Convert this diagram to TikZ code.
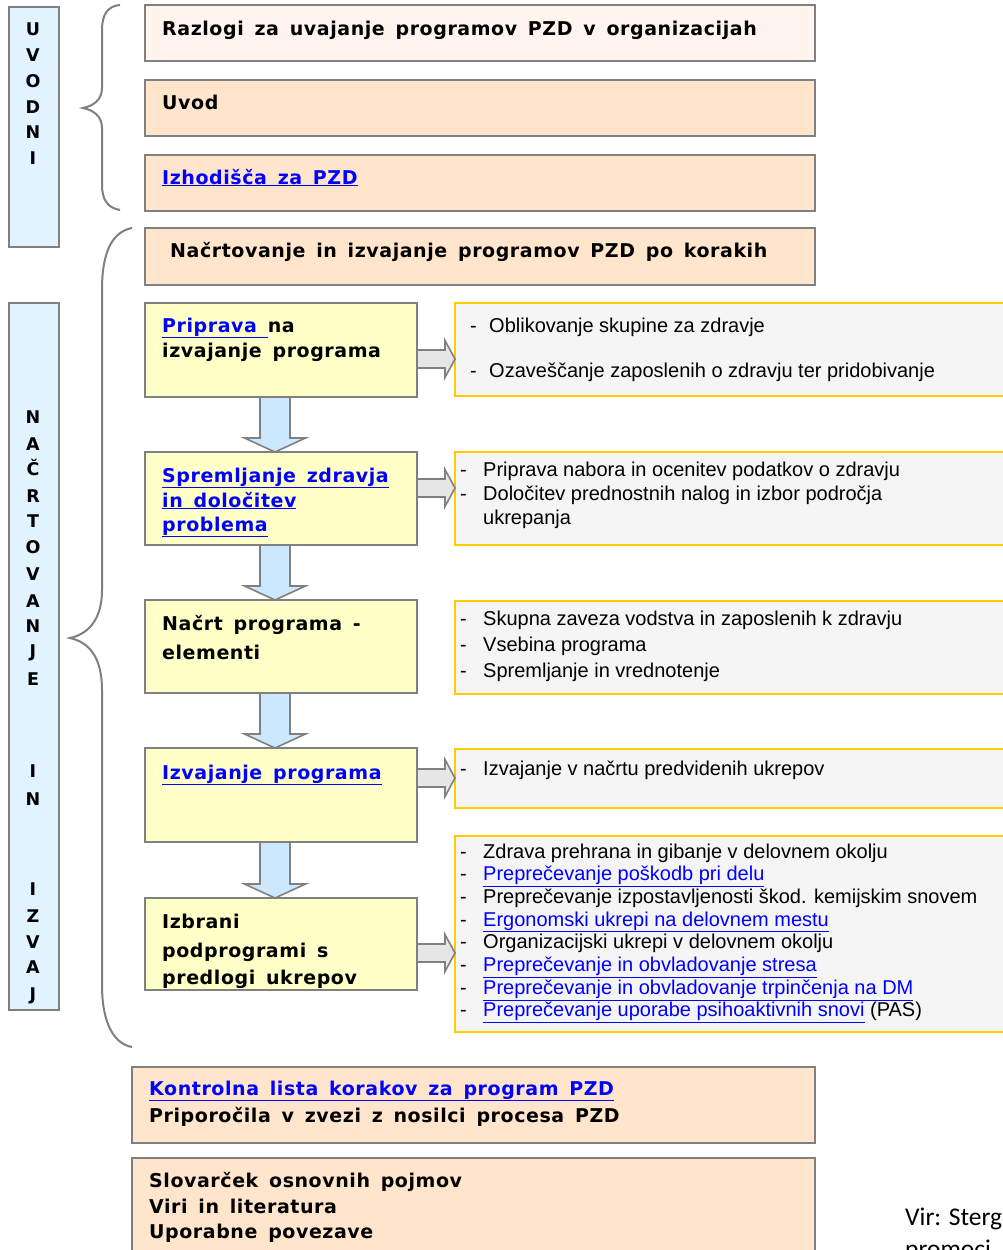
\documentclass[tikz,border=0pt]{standalone}
\usepackage{fontspec}
\setmainfont{DejaVu Sans}
\newfontfamily\vbfont{DejaVu Sans}[LetterSpace=3,WordSpace=1.5]
\newfontfamily\tahfont{Liberation Sans}
\newfontfamily\calfont{Carlito}
\usetikzlibrary{calc}
\definecolor{bluebox}{HTML}{E1F3FF}
\definecolor{yellowbox}{HTML}{FFFFC8}
\definecolor{peach}{HTML}{FFE5CC}
\definecolor{lightpeach}{HTML}{FFF5EE}
\definecolor{graybox}{HTML}{F5F5F5}
\definecolor{goldline}{HTML}{FFCC00}
\definecolor{boxgray}{HTML}{808080}
\definecolor{bracegray}{HTML}{7F7F7F}
\definecolor{arrowblue}{HTML}{CCE8FF}
\definecolor{arrowgray}{HTML}{E6E6E6}
\definecolor{linkblue}{HTML}{0000FF}
\newcommand{\lk}[1]{\textcolor{linkblue}{\underline{#1}}}
\newcommand{\downarr}[2]{%
  \draw[darrow] ($(#1.south)+(-21,0)$) -- ($(#1.south)+(9,0)$) -- ($(#2.north)+(9,-14)$) -- ($(#2.north)+(24.5,-14)$) -- ($(#2.north)+(-6,0)$) -- ($(#2.north)+(-36.5,-14)$) -- ($(#2.north)+(-21,-14)$) -- cycle;}
\newcommand{\rightarr}[3]{%
  \draw[rarrow] ($(#1.east)+(0,#3-9)$) -- ($(#1.east)+(28,#3-9)$) -- ($(#1.east)+(28,#3-18.5)$) -- ($(#2.west|-#1.east)+(0,#3)$) -- ($(#1.east)+(28,#3+18.5)$) -- ($(#1.east)+(28,#3+9)$) -- ($(#1.east)+(0,#3+9)$) -- cycle;}
\begin{document}
\begin{tikzpicture}[x=1pt,y=-1pt,
  box/.style={draw=boxgray, line width=2.8pt, rectangle, inner sep=0pt, outer sep=0pt, anchor=north west},
  ybox/.style={box, fill=yellowbox},
  pbox/.style={box, fill=peach},
  lpbox/.style={box, fill=lightpeach},
  bbox/.style={box, fill=bluebox},
  gbox/.style={draw=goldline, line width=2.4pt, fill=graybox, rectangle, inner sep=0pt, outer sep=0pt, anchor=north west},
  bt/.style={anchor=base west, inner sep=0pt, font=\vbfont\bfseries\fontsize{19}{23}\selectfont},
  gt/.style={anchor=base west, inner sep=0pt, font=\tahfont\fontsize{20}{23}\selectfont},
  vl/.style={anchor=base, inner sep=0pt, font=\bfseries\fontsize{17.5}{20}\selectfont},
  bracestyle/.style={draw=bracegray, line width=2pt},
  darrow/.style={draw=boxgray, line width=1.6pt, fill=arrowblue},
  rarrow/.style={draw=boxgray, line width=1.6pt, fill=arrowgray}]
\useasboundingbox (0,0) rectangle (1003,1250);
\clip (0,0) rectangle (1003,1250);
\fill[white] (0,0) rectangle (1003,1250);

% left blue boxes
\node[bbox, minimum width=50, minimum height=240] (uv) at (9,7) {};
\node[bbox, minimum width=50, minimum height=707] (nc) at (9,303) {};
\foreach \l/\y [count=\i] in {U/35,V/61,O/87,D/113,N/138,I/164}
  \node[vl] (uvl\i) at (33,\y) {\l};
\foreach \l/\y [count=\i] in {N/423,A/450,Č/475,R/502,T/527,O/553,V/580,A/607,N/632,J/657,E/685,I/777,N/805,I/895,Z/922,V/948,A/973,J/1000}
  \node[vl] (ncl\i) at (33,\y) {\l};

% braces
\draw[bracestyle] (120,5) .. controls (108,6) and (102,14) .. (102,30) -- (102,88) .. controls (102,100) and (93,106) .. (83,108) .. controls (93,110) and (102,116) .. (102,128) -- (102,185) .. controls (102,200) and (108,208) .. (120,210);
\draw[bracestyle] (132,228) .. controls (112,232) and (102,252) .. (102,290) -- (102,590) .. controls (102,620) and (88,634) .. (70,638) .. controls (88,642) and (102,656) .. (102,690) -- (102,985) .. controls (102,1025) and (115,1044) .. (132,1047);

% top boxes
\node[lpbox, minimum width=670, minimum height=56] (b0) at (145,5) {};
\node[pbox, minimum width=670, minimum height=56] (b1) at (145,80) {};
\node[pbox, minimum width=670, minimum height=56] (b2) at (145,155) {};
\node[pbox, minimum width=670, minimum height=57] (b3) at (145,228) {};
\node[bt] (t0) at (162,35) {Razlogi za uvajanje programov PZD v organizacijah};
\node[bt] (t1) at (162,109) {Uvod};
\node[bt] (t2) at (162,184) {\lk{Izhodišča za PZD}};
\node[bt] (t3) at (170,257) {Načrtovanje in izvajanje programov PZD po korakih};

% step boxes
\node[ybox, minimum width=272, minimum height=94] (p1) at (145,303) {};
\node[ybox, minimum width=272, minimum height=93] (p2) at (145,452) {};
\node[ybox, minimum width=272, minimum height=93] (p3) at (145,600) {};
\node[ybox, minimum width=272, minimum height=94] (p4) at (145,748) {};
\node[ybox, minimum width=272, minimum height=92] (p5) at (145,898) {};

% right gray boxes
\node[gbox, minimum width=565, minimum height=93] (g1) at (455,303) {};
\node[gbox, minimum width=565, minimum height=93] (g2) at (455,452) {};
\node[gbox, minimum width=565, minimum height=93] (g3) at (455,601) {};
\node[gbox, minimum width=565, minimum height=59] (g4) at (455,749) {};
\node[gbox, minimum width=565, minimum height=196] (g5) at (455,836) {};

% arrows
\downarr{p1}{p2}
\downarr{p2}{p3}
\downarr{p3}{p4}
\downarr{p4}{p5}
\rightarr{p1}{g1}{9}
\rightarr{p2}{g2}{-10.5}
\rightarr{p4}{g4}{-17}
\rightarr{p5}{g5}{9}

% step texts
\node[bt] (s1a) at (162,332) {\lk{Priprava\ }na};
\node[bt] (s1b) at (162,357) {izvajanje programa};
\node[bt] (s2a) at (162,482) {\lk{Spremljanje zdravja}};
\node[bt] (s2b) at (162,507) {\lk{in določitev}};
\node[bt] (s2c) at (162,531) {\lk{problema}};
\node[bt] (s3a) at (162,630) {Načrt programa -};
\node[bt] (s3b) at (162,659) {elementi};
\node[bt] (s4a) at (162,779) {\lk{Izvajanje programa}};
\node[bt] (s5a) at (162,928) {Izbrani};
\node[bt] (s5b) at (162,957) {podprogrami s};
\node[bt] (s5c) at (162,984) {predlogi ukrepov};

% gray texts
\node[gt] (d1a) at (470,332) {-};
\node[gt] (e1a) at (489,332) {Oblikovanje skupine za zdravje};
\node[gt] (d1b) at (470,377) {-};
\node[gt] (e1b) at (489,377) {Ozaveščanje zaposlenih o zdravju ter pridobivanje};
\node[gt] (d2a) at (460,476) {-};
\node[gt] (e2a) at (483,476) {Priprava nabora in ocenitev podatkov o zdravju};
\node[gt] (d2b) at (460,500) {-};
\node[gt] (e2b) at (483,500) {Določitev prednostnih nalog in izbor področja};
\node[gt] (e2c) at (483,524) {ukrepanja};
\node[gt] (d3a) at (460,625) {-};
\node[gt] (e3a) at (483,625) {Skupna zaveza vodstva in zaposlenih k zdravju};
\node[gt] (d3b) at (460,651) {-};
\node[gt] (e3b) at (483,651) {Vsebina programa};
\node[gt] (d3c) at (460,677) {-};
\node[gt] (e3c) at (483,677) {Spremljanje in vrednotenje};
\node[gt] (d4a) at (460,775) {-};
\node[gt] (e4a) at (483,775) {Izvajanje v načrtu predvidenih ukrepov};
\foreach \t [count=\i] in {Zdrava prehrana in gibanje v delovnem okolju,
  \lk{Preprečevanje poškodb pri delu},
  Preprečevanje izpostavljenosti škod. kemijskim snovem,
  \lk{Ergonomski ukrepi na delovnem mestu},
  Organizacijski ukrepi v delovnem okolju,
  \lk{Preprečevanje in obvladovanje stresa},
  \lk{Preprečevanje in obvladovanje trpinčenja na DM},
  {\lk{Preprečevanje uporabe psihoaktivnih snovi} (PAS)}}
{
  \node[gt] (d5\i) at (460,{858+22.7*(\i-1)}) {-};
  \node[gt] (e5\i) at (483,{858+22.7*(\i-1)}) {\t};
}

% bottom boxes
\node[pbox, minimum width=683, minimum height=76] (k1) at (132,1067) {};
\node[pbox, minimum width=683, minimum height=110] (k2) at (132,1158) {};
\node[bt] (k1a) at (149,1095) {\lk{Kontrolna lista korakov za program PZD}};
\node[bt] (k1b) at (149,1122) {Priporočila v zvezi z nosilci procesa PZD};
\node[bt] (k2a) at (149,1187) {Slovarček osnovnih pojmov};
\node[bt] (k2b) at (149,1213) {Viri in literatura};
\node[bt] (k2c) at (149,1238) {Uporabne povezave};

\node[anchor=base west, inner sep=0pt, font=\calfont\fontsize{25.5}{30}\selectfont] (vir1) at (905,1225) {Vir: Sterg};
\node[anchor=base west, inner sep=0pt, font=\calfont\fontsize{25.5}{30}\selectfont] (vir2) at (905,1257) {promoci};
\end{tikzpicture}
\end{document}
